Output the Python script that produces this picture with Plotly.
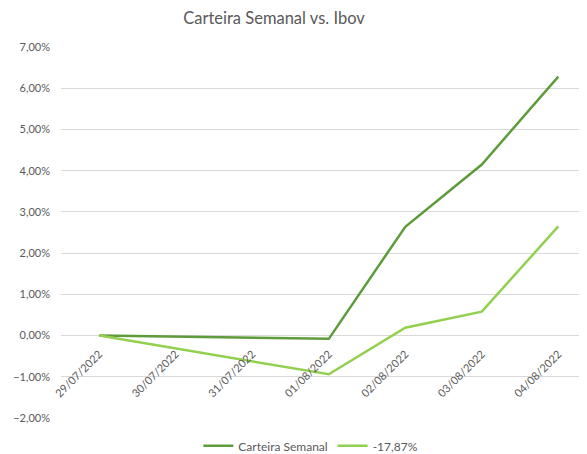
import plotly.graph_objects as go

dates = ["2022-07-29", "2022-08-01", "2022-08-02", "2022-08-03", "2022-08-04"]
carteira = [0.0, -0.0008, 0.0264, 0.0415, 0.0628]
ibov = [0.0, -0.0094, 0.0019, 0.0058, 0.0265]
tick_dates = ["2022-07-29", "2022-07-30", "2022-07-31", "2022-08-01",
              "2022-08-02", "2022-08-03", "2022-08-04"]
names = ["Carteira Semanal", "-17,87%"]

fig = go.Figure()
fig.add_trace(go.Scatter(x=dates, y=carteira, mode="lines", name=names[0],
                         line=dict(color="#5E9B3A", width=2.5)))
fig.add_trace(go.Scatter(x=dates, y=ibov, mode="lines", name=names[1],
                         line=dict(color="#92D050", width=2.5)))

# the page body adds an 8px offset, so the figure is sized to the visible area
W, H = 579, 446
font = "Lato, Open Sans, sans-serif"
fig.update_layout(
    width=W, height=H,
    margin=dict(l=53, r=0, t=39, b=36, autoexpand=False),
    paper_bgcolor="white", plot_bgcolor="white",
    separators=",.",
    font=dict(family=font, color="#595959", size=11),
    title=dict(text="Carteira Semanal vs. Ibov", x=266/W, xanchor="center",
               xref="container", y=1-10/H, yanchor="middle", yref="container",
               font=dict(size=16.5, color="#595959", family=font)),
    showlegend=True,
    legend=dict(orientation="h", x=0.475, xanchor="center", y=-0.075, yanchor="middle",
                font=dict(size=12, color="#595959"), itemwidth=30),
    xaxis=dict(type="date", range=["2022-07-28 12:00", "2022-08-04 09:00"],
               tickvals=tick_dates, tickformat="%d/%m/%Y", tickangle=-45,
               showgrid=False, zeroline=False, showline=False, ticks="",
               anchor="free", position=2/9, automargin=False, ticklabelstandoff=9,
               tickfont=dict(size=11, color="#595959")),
    yaxis=dict(range=[-0.02, 0.07], dtick=0.01, tickformat=".2%",
               showgrid=True, gridcolor="#D9D9D9", gridwidth=1,
               zeroline=True, zerolinecolor="#D9D9D9", zerolinewidth=1,
               ticks="", ticklabelstandoff=10, automargin=False,
               tickfont=dict(size=11, color="#595959")),
)

fig.write_html("out.html")
